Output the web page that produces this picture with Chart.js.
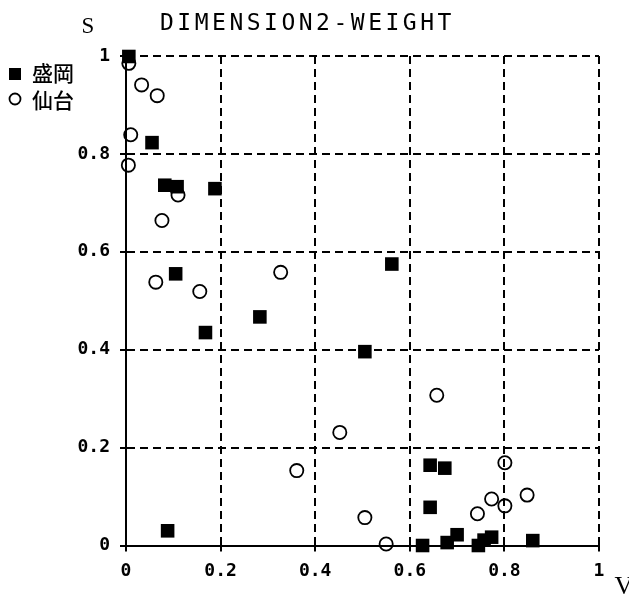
<!DOCTYPE html>
<html>
<head>
<meta charset="utf-8">
<script src="https://cdn.jsdelivr.net/npm/chart.js@4"></script>
<style>
  html, body { margin: 0; padding: 0; background: #fff; }
</style>
</head>
<body>
<canvas id="grafico" width="629" height="595"></canvas>
<script>
// dados (V, S)
const titulo = 'DIMENSION2-WEIGHT';
const nomes = ['盛岡', '仙台'];
const moriokaV = [0.006, 0.055, 0.082, 0.108, 0.188, 0.105, 0.168, 0.283, 0.562, 0.505, 0.088,
                  0.643, 0.674, 0.643, 0.627, 0.679, 0.700, 0.745, 0.757, 0.773, 0.860];
const moriokaS = [0.999, 0.823, 0.736, 0.733, 0.729, 0.555, 0.435, 0.467, 0.575, 0.396, 0.030,
                  0.164, 0.158, 0.078, 0.000, 0.006, 0.022, 0.000, 0.011, 0.017, 0.010];
const sendaiV = [0.006, 0.033, 0.066, 0.010, 0.005, 0.110, 0.076, 0.063, 0.156, 0.327, 0.361,
                 0.452, 0.505, 0.550, 0.657, 0.801, 0.773, 0.801, 0.848, 0.743];
const sendaiS = [0.985, 0.941, 0.919, 0.839, 0.777, 0.716, 0.664, 0.538, 0.519, 0.558, 0.153,
                 0.231, 0.057, 0.003, 0.307, 0.169, 0.095, 0.081, 0.103, 0.065];
const rotulosX = ['0', '0.2', '0.4', '0.6', '0.8', '1'];
const rotulosY = ['0', '0.2', '0.4', '0.6', '0.8', '1'];

function juntaPontos(xs, ys) {
  return xs.map((v, i) => ({ x: v, y: ys[i] }));
}

const fonteTicks = { family: '"DejaVu Sans Mono"', size: 18, weight: 'bold' };

// textos extras: título, nomes dos eixos e legenda
const textos = {
  id: 'textos',
  afterDraw(chart) {
    const ctx = chart.ctx;
    ctx.save();
    ctx.fillStyle = '#000';
    ctx.strokeStyle = '#000';
    ctx.textBaseline = 'middle';
    ctx.textAlign = 'left';
    ctx.font = '23px "DejaVu Sans Mono"';
    ctx.letterSpacing = '3.5px';
    ctx.fillText(titulo, 160, 24);
    ctx.letterSpacing = '0px';
    ctx.textAlign = 'center';
    ctx.font = '23px "Liberation Serif"';
    ctx.fillText('S', 88, 27);
    ctx.font = '26px "Liberation Serif"';
    ctx.fillText('V', 624, 587);

    // legenda
    ctx.fillRect(9, 68, 12, 12);
    ctx.lineWidth = 1.8;
    ctx.beginPath();
    ctx.arc(15, 99, 5.5, 0, Math.PI * 2);
    ctx.stroke();
    ctx.textAlign = 'left';
    ctx.font = '500 21px "Noto Sans CJK JP"';
    ctx.fillText(nomes[0], 32, 73);
    ctx.fillText(nomes[1], 32, 100);
    ctx.restore();
  }
};

const graficoDimensao = new Chart(document.getElementById('grafico'), {
  type: 'scatter',
  data: {
    datasets: [{
      label: nomes[0],
      data: juntaPontos(moriokaV, moriokaS),
      pointStyle: 'rect',
      pointRadius: 9.6,
      backgroundColor: '#000',
      borderWidth: 0,
      clip: false
    }, {
      label: nomes[1],
      data: juntaPontos(sendaiV, sendaiS),
      pointStyle: 'circle',
      pointRadius: 6.6,
      borderWidth: 1.8,
      borderColor: '#000',
      backgroundColor: 'rgba(0,0,0,0)',
      clip: false
    }]
  },
  options: {
    responsive: false,
    animation: false,
    events: [],
    layout: { padding: { left: 0, right: 30, top: 56, bottom: 0 } },
    plugins: { legend: { display: false }, tooltip: { enabled: false } },
    scales: {
      x: {
        type: 'linear', min: 0, max: 1,
        afterFit: (s) => { s.height = 49.5; },
        ticks: {
          stepSize: 0.2, padding: 9, color: '#000', font: fonteTicks,
          maxRotation: 0, autoSkip: false,
          callback: (v, i) => rotulosX[i]
        },
        grid: { color: '#000', lineWidth: 2, tickLength: 6, tickWidth: 2, tickBorderDash: [] },
        border: { display: true, color: '#000', width: 2, dash: [8, 5] }
      },
      y: {
        type: 'linear', min: 0, max: 1,
        afterFit: (s) => { s.width = 126; },
        ticks: {
          stepSize: 0.2, padding: 10, color: '#000', font: fonteTicks,
          autoSkip: false,
          callback: (v, i) => rotulosY[i]
        },
        grid: { color: '#000', lineWidth: 2, tickLength: 6, tickWidth: 2, tickBorderDash: [] },
        border: { display: true, color: '#000', width: 2, dash: [8, 5] }
      }
    }
  },
  plugins: [textos]
});
</script>
</body>
</html>
